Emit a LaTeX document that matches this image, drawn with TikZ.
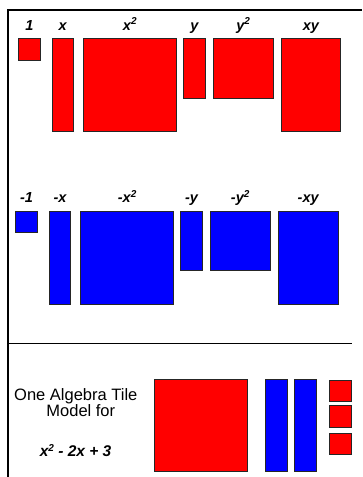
\documentclass[tikz,border=0pt]{standalone}
\usepackage{fontspec}
\setmainfont{Liberation Sans}
\newcommand{\tilesq}{\raisebox{0.36em}{\fontsize{10}{10}\selectfont 2}}

\begin{document}
\begin{tikzpicture}[
    x=1pt, y=-1pt,
    tilenode/.style={rectangle, draw=black!85, line width=0.9pt, inner sep=0pt, anchor=north west},
    labelnode/.style={font=\fontsize{14.5}{15}\selectfont\bfseries\itshape, inner sep=0pt, anchor=base},
    captionnode/.style={font=\fontsize{16.5}{17}\selectfont, inner sep=0pt, anchor=base},
]
    \useasboundingbox (0,0) rectangle (362,477);

    % the frame and the divider line
    \draw [line width=1.8pt] (8,477) -- (8,10) -- (362,10) ;
    \draw [line width=1pt] (8,343.3) -- (352,343.3) ;

    % positive tiles (red row)
    \foreach \n/\x/\w/\h/\txt in {
    % n: tile name, x: left edge, w/h: tile size, txt: label
    one/17.7/22.3/21.7/1,
    x/51.7/21/92.7/x,
    xx/82.7/93.3/92.7/x\tilesq,
    y/183/21.7/59.4/y,
    yy/212.7/60/59.4/y\tilesq,
    xy/280.7/59.6/92.7/xy}
    {
        \node [tilenode, fill=red, minimum width=\w*1pt, minimum height=\h*1pt] at (\x, 38.3) (r_\n){};
        \node [labelnode] at ([yshift=8.3pt]r_\n.north) (rlab_\n){\txt};
    }

    % negative tiles (blue row)
    \foreach \n/\x/\w/\h/\txt in {
    one/15/22/21.3/-1,
    x/48.7/21.6/93/-x,
    xx/80/93.3/93/-x\tilesq,
    y/180.3/21.4/59/-y,
    yy/209.7/60/59/-y\tilesq,
    xy/277.7/60/93/-xy}
    {
        \node [tilenode, fill=blue, minimum width=\w*1pt, minimum height=\h*1pt] at (\x, 211) (b_\n){};
        \node [labelnode] at ([yshift=8.3pt]b_\n.north) (blab_\n){\txt};
    }

    % model of x^2 - 2x + 3
    \node [captionnode] at (75.8, 400.7) (cap_a){One Algebra Tile};
    \node [captionnode] at (80.8, 416.7) (cap_b){Model for};
    \node [labelnode, font=\fontsize{15.5}{16}\selectfont\bfseries\itshape] at (75.6, 456.7) (cap_f){x\tilesq{} - 2x + 3};

    \node [tilenode, fill=red, minimum width=92.7pt, minimum height=92pt] at (154, 379) (m_xx){};
    \foreach \i/\x in {1/265.3, 2/293.7}
    {
        \node [tilenode, fill=blue, minimum width=21.8pt, minimum height=92pt] at (\x, 379) (m_x\i){};
    }
    \foreach \i/\y in {1/379.7, 2/405.3, 3/432.7}
    {
        \node [tilenode, fill=red, minimum width=21.7pt, minimum height=21.5pt] at (329.3, \y) (m_u\i){};
    }

\end{tikzpicture}
\end{document}
